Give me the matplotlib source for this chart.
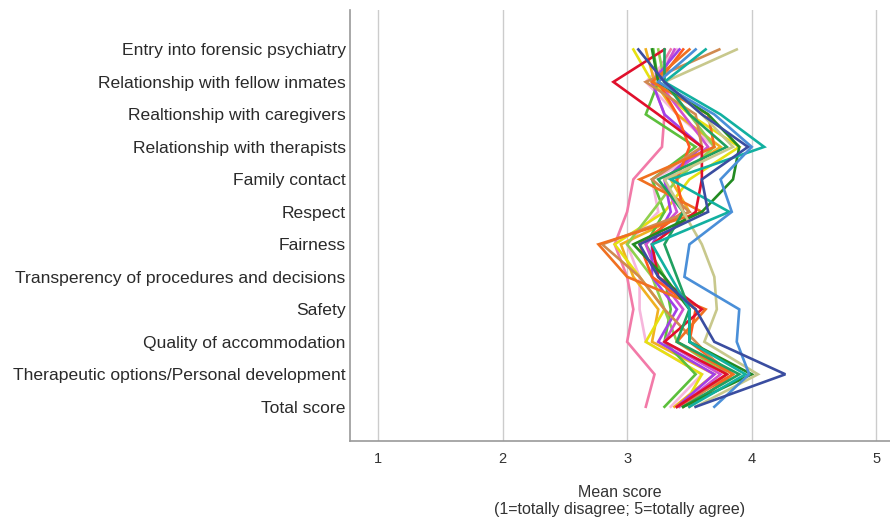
import matplotlib
matplotlib.use("Agg")
import matplotlib.pyplot as plt

categories = [
    "Entry into forensic psychiatry",
    "Relationship with fellow inmates",
    "Realtionship with caregivers",
    "Relationship with therapists",
    "Family contact",
    "Respect",
    "Fairness",
    "Transperency of procedures and decisions",
    "Safety",
    "Quality of accommodation",
    "Therapeutic options/Personal development",
    "Total score",
]

# mean scores per group, in category order
navy = [3.09, 3.30, 3.60, 3.97, 3.60, 3.65, 3.10, 3.25, 3.55, 3.70, 4.27, 3.55]
teal = [3.63, 3.30, 3.75, 4.10, 3.35, 3.82, 3.20, 3.35, 3.50, 3.50, 3.95, 3.50]
blue = [3.55, 3.25, 3.70, 4.00, 3.75, 3.84, 3.50, 3.46, 3.90, 3.88, 3.98, 3.70]
khaki = [3.88, 3.30, 3.60, 3.85, 3.30, 3.45, 3.60, 3.70, 3.72, 3.62, 4.05, 3.55]
dark_green = [3.20, 3.25, 3.65, 3.90, 3.85, 3.60, 3.05, 3.30, 3.50, 3.50, 4.00, 3.45]
red = [3.30, 2.89, 3.25, 3.60, 3.60, 3.55, 3.20, 3.25, 3.60, 3.30, 3.80, 3.40]
orange = [3.50, 3.20, 3.65, 3.70, 3.10, 3.60, 2.77, 3.00, 3.63, 3.40, 3.85, 3.50]
tan = [3.74, 3.15, 3.55, 3.60, 3.20, 3.50, 2.80, 3.10, 3.30, 3.55, 3.80, 3.45]
purple = [3.42, 3.20, 3.30, 3.60, 3.30, 3.35, 3.20, 3.20, 3.40, 3.25, 3.70, 3.40]
yellow = [3.05, 3.20, 3.50, 3.90, 3.50, 3.30, 2.90, 3.10, 3.30, 3.15, 3.60, 3.45]
green = [3.21, 3.25, 3.15, 3.55, 3.20, 3.30, 3.15, 3.30, 3.35, 3.30, 3.55, 3.30]
pink = [3.35, 3.20, 3.30, 3.28, 3.05, 3.00, 2.90, 3.00, 3.05, 3.00, 3.22, 3.15]
light_pink = [3.40, 3.15, 3.40, 3.70, 3.20, 3.25, 3.00, 3.10, 3.10, 3.15, 3.60, 3.35]
light_green = [3.25, 3.30, 3.50, 3.70, 3.40, 3.20, 3.00, 3.20, 3.30, 3.40, 3.80, 3.40]
red_orange = [3.45, 3.25, 3.40, 3.50, 3.40, 3.45, 3.10, 3.20, 3.55, 3.50, 3.85, 3.40]
sea_green = [3.30, 3.30, 3.50, 3.80, 3.25, 3.45, 3.30, 3.40, 3.50, 3.40, 3.90, 3.45]
magenta = [3.38, 3.25, 3.45, 3.65, 3.30, 3.40, 3.15, 3.25, 3.45, 3.30, 3.75, 3.42]
gold = [3.15, 3.22, 3.40, 3.75, 3.35, 3.50, 2.95, 3.05, 3.25, 3.20, 3.70, 3.38]

series = [
    (pink, "#f27aa8"), (light_pink, "#f6b6dc"), (gold, "#f0b020"),
    (yellow, "#e6e012"), (green, "#5cbf3c"), (light_green, "#8fd04e"),
    (magenta, "#d050d0"), (purple, "#a040e8"), (red_orange, "#ff5a1e"),
    (tan, "#d08a50"), (orange, "#f07020"), (red, "#e0102c"),
    (sea_green, "#20a060"), (dark_green, "#228b22"), (khaki, "#c8c88c"),
    (teal, "#12b0a0"), (blue, "#4a8fd8"), (navy, "#3a4da0"),
]

plt.rcParams["font.family"] = ["Liberation Sans", "DejaVu Sans"]

fig = plt.figure(figsize=(8.9, 5.23), dpi=100)
ax = fig.add_axes([0.393, 0.157, 0.607, 0.823])

y = list(range(len(categories)))
for values, color in series:
    ax.plot(values, y, color=color, linewidth=1.9, solid_joinstyle="miter")

ax.set_xlim(0.774, 5.11)
ax.set_ylim(len(categories) - 1 + 1.05, -1.2)
ax.set_xticks([1, 2, 3, 4, 5])
ax.set_yticks(y)
ax.set_yticklabels(categories, fontsize=12.6, color="#2a2a2a")
ax.tick_params(axis="x", labelsize=10.5, colors="#333333", length=0, pad=8)
ax.tick_params(axis="y", length=0, pad=3)
ax.xaxis.grid(True, color="#cccccc", linewidth=1)
ax.set_axisbelow(True)

for side in ["top", "right"]:
    ax.spines[side].set_visible(False)
for side in ["left", "bottom"]:
    ax.spines[side].set_color("#999999")
    ax.spines[side].set_linewidth(1.2)

ax.set_xlabel("Mean score\n(1=totally disagree; 5=totally agree)",
              fontsize=11.5, color="#333333", labelpad=14, linespacing=1.1)

fig.savefig("out.png", dpi=100)
